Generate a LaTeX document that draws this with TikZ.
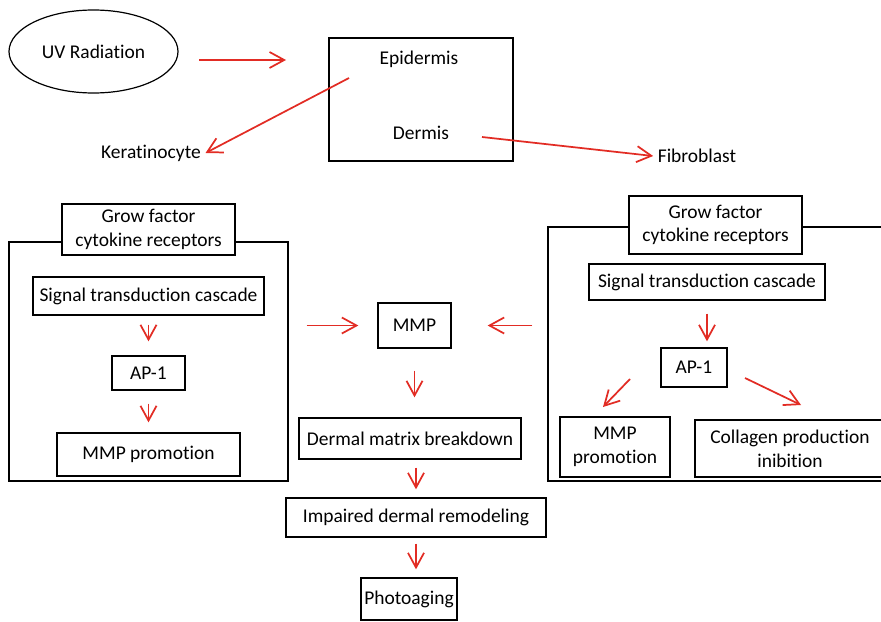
\documentclass[tikz,border=0pt]{standalone}
\usepackage{fontspec}
\setmainfont{Carlito}[Ligatures=NoCommon]
\usetikzlibrary{calc,arrows.meta,shapes.geometric}
\definecolor{arrred}{RGB}{226,44,36}

\begin{document}
\begin{tikzpicture}[x=0.75pt,y=-0.75pt,
    font=\fontsize{14.6}{17.8}\selectfont,
    box/.style={draw,line width=1pt,inner sep=0pt,align=center,fill=white},
    arr/.style={draw=arrred,line width=1.3pt,-{Straight Barb[length=11pt,width=12pt]}}]
    \useasboundingbox (0,0) rectangle (881,621);
    \clip (0,0) rectangle (881,621);
    % skin layers
    \node[draw,ellipse,line width=0.9pt,minimum width=126.75pt,minimum height=62.25pt] (uv) at (93.5,51.5) {UV Radiation};
    \node[box,minimum width=138pt,minimum height=92.25pt] (skin) at (421,99.5) {};
    \node (epi) at (419,59) {Epidermis};
    \node (derm) at (421,133) {Dermis};
    \node (kera) at (151,153) {Keratinocyte};
    \node (fibro) at (697,156) {Fibroblast};
    \coordinate (uvout) at (199,60);
    \coordinate (skinin) at (286,60);
    \coordinate (episide) at (349,78);
    \coordinate (dermside) at (482,137);
    \draw[arr] (uvout) -- (skinin);
    \draw[arr] (episide) -- (kera.east);
    \draw[arr] (dermside) -- (fibro.west);
    % keratinocyte side
    \node[box,minimum width=209.25pt,minimum height=179.25pt] (lframe) at (148.5,361.5) {};
    \node[box,minimum width=129.75pt,minimum height=38.25pt] (ltitle) at (148.5,229.5) {Grow factor\\cytokine receptors};
    \node[box,minimum width=173.25pt,minimum height=28.5pt] (lsig) at (148.5,296) {Signal transduction cascade};
    \node[box,minimum width=54.75pt,minimum height=25.5pt] (lap) at (148.5,373) {AP-1};
    \node[box,minimum width=137.25pt,minimum height=32.25pt] (lmmp) at (148.5,454.5) {MMP promotion};
    \draw[arr,shorten <=6.75pt,shorten >=10.5pt] (lsig) -- (lap);
    \draw[arr,shorten <=9.75pt,shorten >=7.5pt] (lap) -- (lmmp);
    % fibroblast side
    \node[box,minimum width=260.25pt,minimum height=190.5pt] (rframe) at (721.5,354) {};
    \node[box,minimum width=129.75pt,minimum height=43.5pt] (rtitle) at (715.5,225) {Grow factor\\cytokine receptors};
    \node[box,minimum width=177pt,minimum height=27pt] (rsig) at (707,282) {Signal transduction cascade};
    \node[box,minimum width=49.5pt,minimum height=29.25pt] (rap) at (694,367.5) {AP-1};
    \node[box,minimum width=82.5pt,minimum height=45pt] (rmmp) at (615,447) {MMP\\promotion};
    \node[box,minimum width=142.5pt,minimum height=42.75pt] (rcol) at (790,448.5) {Collagen production\\inibition};
    \coordinate (rapl) at (630,379);
    \coordinate (rmmpin) at (603,407);
    \coordinate (rapr) at (745,378);
    \coordinate (rcolin) at (801,405);
    \draw[arr,shorten <=9.75pt,shorten >=4.5pt] (rsig) -- (rsig |- rap.north);
    \draw[arr] (rapl) -- (rmmpin);
    \draw[arr] (rapr) -- (rcolin);
    % common path
    \node[box,minimum width=54.75pt,minimum height=33.75pt] (mmp) at (414.5,325.5) {MMP};
    \node[box,minimum width=166.5pt,minimum height=30.75pt] (dmb) at (410,438.5) {Dermal matrix breakdown};
    \node[box,minimum width=195pt,minimum height=29.25pt] (idr) at (416,517.5) {Impaired dermal remodeling};
    \node[box,minimum width=72pt,minimum height=31.5pt] (photo) at (409,599) {Photoaging};
    \draw[arr,shorten <=13.5pt,shorten >=14.25pt] (lframe.east |- mmp) -- (mmp.west);
    \draw[arr,shorten <=11.25pt,shorten >=27pt] (rframe.west |- mmp) -- (mmp.east);
    \draw[arr,shorten <=16.5pt,shorten >=15pt] (mmp) -- (mmp |- dmb.north);
    \draw[arr,shorten <=6pt,shorten >=6pt] (dmb.south -| idr) -- (idr);
    \draw[arr,shorten <=4.5pt,shorten >=6pt] (idr) -- (idr |- photo.north);
\end{tikzpicture}
\end{document}
